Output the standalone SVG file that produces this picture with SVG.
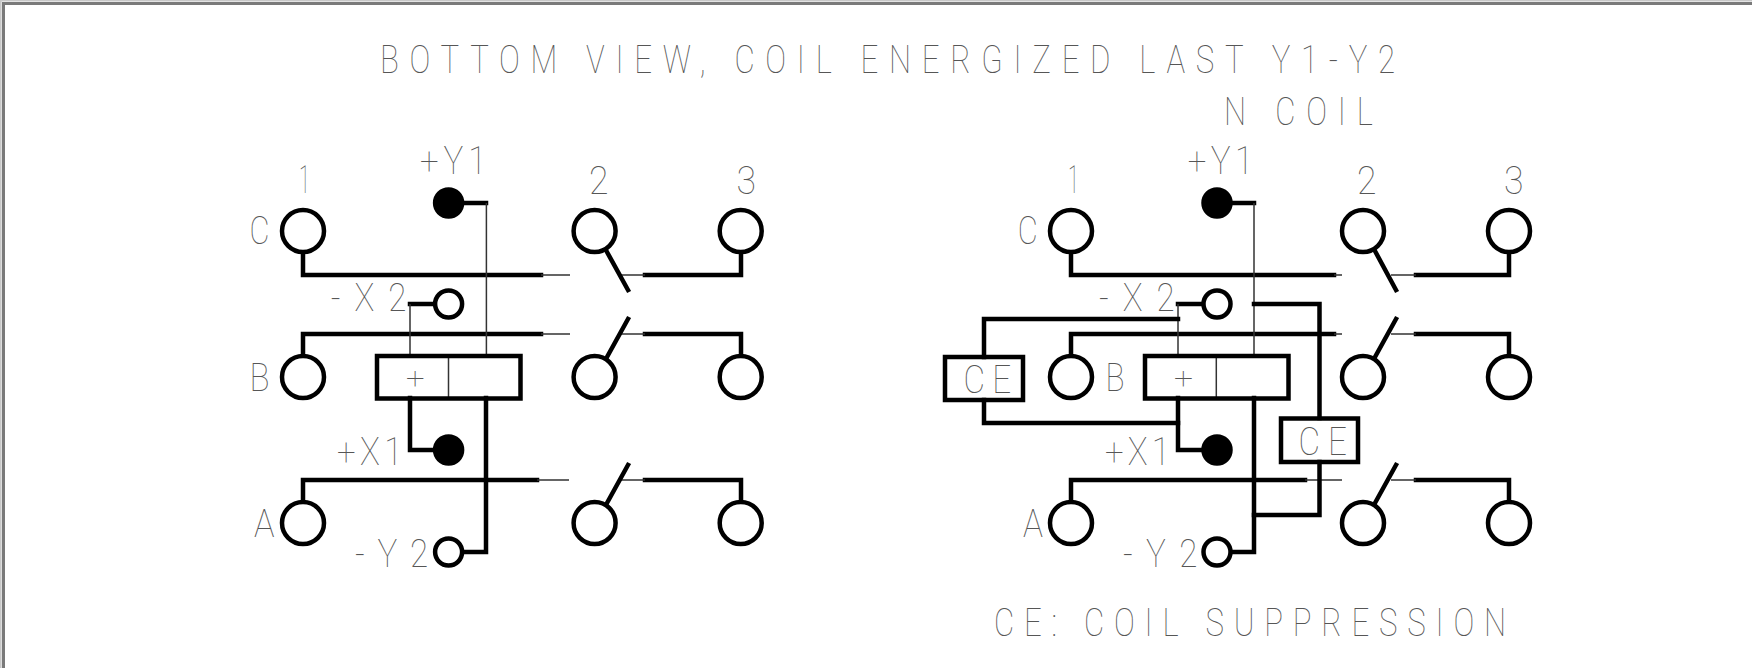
<svg xmlns="http://www.w3.org/2000/svg" width="1752" height="668" viewBox="0 0 1752 668">
<style>
.t{font-family:"Roboto","Liberation Sans",sans-serif;font-weight:100;font-size:39px;fill:#555;opacity:.99}
.k{fill:none;stroke:#000;stroke-width:4.5;stroke-linecap:square;stroke-linejoin:miter}
.n{fill:none;stroke:#333;stroke-width:1.5}
.o{fill:#fff;stroke:#000;stroke-width:4.5}
.b{fill:#000;stroke:#000;stroke-width:4.5}
.r{fill:none;stroke:#000;stroke-width:4.5}
</style>
<rect width="1752" height="668" fill="#fff"/>
<g id="frame"><path d="M3.5 668V3.5H1752" fill="none" stroke="#7a7a7a" stroke-width="3"/><path d="M.8 668V.8H1752" fill="none" stroke="#c8c8c8" stroke-width="1.6"/></g>
<g id="titles">
<text class="t" transform="translate(380 72.7) scale(.8 1)" textLength="1269" lengthAdjust="spacing">BOTTOM VIEW, COIL ENERGIZED LAST Y1-Y2</text>
<text class="t" transform="translate(1224 125) scale(.8 1)" textLength="186" lengthAdjust="spacing">N COIL</text>
<text class="t" transform="translate(994 635.7) scale(.8 1)" textLength="640" lengthAdjust="spacing">CE: COIL SUPPRESSION</text>
</g>
<g id="connectors">
<g id="wires-left">
<path class="k" d="M303 254V275H541M303 356V334H541M303 501V480H537"/>
<path class="k" d="M741 254V275H645M741 356V334H645M741 501V480H645"/>
<path class="n" d="M541 275H570M541 334H570M537 480H569M621 275H645M621 334H645M621 480H645"/>
<path class="k" d="M607 252L628 290M607 357L628 319M607 503L628 465"/>
<path class="k" d="M465 203H486M410 304H433M410 398V450H433M486 398V552H465"/>
<path class="n" d="M486.400 203V356M410 304V356"/>
<path class="n" d="M448.500 356V398"/>
</g>
<g id="wires-right">
<path class="k" d="M1071 254V275H1334M1071 356V334H1334M1071 501V480H1305"/>
<path class="k" d="M1509 254V275H1416M1509 356V334H1416M1509 501V480H1416"/>
<path class="n" d="M1334 275H1342M1334 334H1342M1305 480H1342M1391 275H1416M1391 334H1416M1391 480H1416"/>
<path class="k" d="M1375 251L1396 290M1375 357L1396 319M1375 503L1396 465"/>
<path class="k" d="M1234 203H1254M1178 304H1200M1178 398V450H1200M1254 398V552H1234"/>
<path class="n" d="M1254 203V356M1178 304V356"/>
<path class="n" d="M1216.300 356V398"/>
<path class="k" d="M984 357V319H1178M984 400V423H1178"/>
<path class="k" d="M1254 304H1319.500V418M1319.500 462V515H1254"/>
</g>
</g>
<g id="relay-left">
<rect class="r" x="377" y="356" width="143.500" height="42.500"/>
<text class="t" x="406" y="388" textLength="18.600" lengthAdjust="spacingAndGlyphs" style="font-size:30px">+</text>
</g>
<g id="relay-right">
<rect class="r" x="1145" y="356" width="143.500" height="42.500"/>
<text class="t" x="1174" y="388" textLength="19" lengthAdjust="spacingAndGlyphs" style="font-size:30px">+</text>
</g>
<g id="ce-left"><rect class="r" x="945" y="357" width="78" height="43"/><text class="t" transform="translate(963.6 392.7) scale(.85 1)" textLength="56" lengthAdjust="spacing">CE</text></g>
<g id="ce-right"><rect class="r" x="1281" y="418.500" width="77" height="43.500"/><text class="t" transform="translate(1298.5 455) scale(.85 1)" textLength="57" lengthAdjust="spacing">CE</text></g>
<g id="left-terminals">
<g id="l-c"><circle class="o" cx="303" cy="231" r="21"/><text class="t" x="249.600" y="244" textLength="20" lengthAdjust="spacingAndGlyphs">C</text><text class="t" x="299" y="193.300" textLength="11" lengthAdjust="spacingAndGlyphs">1</text></g>
<g id="l-b"><circle class="o" cx="303" cy="377" r="21"/><text class="t" x="249.600" y="390.700" textLength="20" lengthAdjust="spacingAndGlyphs">B</text></g>
<g id="l-a"><circle class="o" cx="303" cy="523" r="21"/><text class="t" x="254" y="537.300" textLength="20.500" lengthAdjust="spacingAndGlyphs">A</text></g>
<g id="l-2"><circle class="o" cx="594.600" cy="231" r="21"/><text class="t" x="589" y="194" textLength="19.500" lengthAdjust="spacingAndGlyphs">2</text></g>
<g id="l-3"><circle class="o" cx="740.700" cy="231" r="21"/><text class="t" x="736.400" y="194" textLength="19.500" lengthAdjust="spacingAndGlyphs">3</text></g>
<g id="l-m2"><circle class="o" cx="594.600" cy="377" r="21"/></g>
<g id="l-m3"><circle class="o" cx="740.700" cy="377" r="21"/></g>
<g id="l-b2"><circle class="o" cx="594.600" cy="523" r="21"/></g>
<g id="l-b3"><circle class="o" cx="740.700" cy="523" r="21"/></g>
<g id="l-y1"><circle class="b" cx="448.600" cy="203" r="13.500"/><text class="t" transform="translate(420 174.3) scale(.85 1)" textLength="78" lengthAdjust="spacing">+Y1</text></g>
<g id="l-x2"><circle class="o" cx="448.600" cy="304" r="13.500"/><text class="t" transform="translate(330.7 311) scale(.85 1)" textLength="89" lengthAdjust="spacing">-X2</text></g>
<g id="l-x1"><circle class="b" cx="448.600" cy="450" r="13.500"/><text class="t" transform="translate(337 465) scale(.85 1)" textLength="77" lengthAdjust="spacing">+X1</text></g>
<g id="l-y2"><circle class="o" cx="448.600" cy="552" r="13.500"/><text class="t" transform="translate(355 566.7) scale(.85 1)" textLength="86" lengthAdjust="spacing">-Y2</text></g>
</g>
<g id="right-terminals">
<g id="r-c"><circle class="o" cx="1071" cy="231" r="21"/><text class="t" x="1017.800" y="244" textLength="20" lengthAdjust="spacingAndGlyphs">C</text><text class="t" x="1068" y="193.300" textLength="11" lengthAdjust="spacingAndGlyphs">1</text></g>
<g id="r-b"><circle class="o" cx="1071" cy="377" r="21"/><text class="t" x="1105.500" y="390.700" textLength="19" lengthAdjust="spacingAndGlyphs">B</text></g>
<g id="r-a"><circle class="o" cx="1071" cy="523" r="21"/><text class="t" x="1023" y="537.300" textLength="20" lengthAdjust="spacingAndGlyphs">A</text></g>
<g id="r-2"><circle class="o" cx="1363" cy="231" r="21"/><text class="t" x="1357" y="194" textLength="19.500" lengthAdjust="spacingAndGlyphs">2</text></g>
<g id="r-3"><circle class="o" cx="1509" cy="231" r="21"/><text class="t" x="1504" y="194" textLength="19.500" lengthAdjust="spacingAndGlyphs">3</text></g>
<g id="r-m2"><circle class="o" cx="1363" cy="377" r="21"/></g>
<g id="r-m3"><circle class="o" cx="1509" cy="377" r="21"/></g>
<g id="r-b2"><circle class="o" cx="1363" cy="523" r="21"/></g>
<g id="r-b3"><circle class="o" cx="1509" cy="523" r="21"/></g>
<g id="r-y1"><circle class="b" cx="1217" cy="203" r="13.500"/><text class="t" transform="translate(1187.8 174.3) scale(.85 1)" textLength="77" lengthAdjust="spacing">+Y1</text></g>
<g id="r-x2"><circle class="o" cx="1217" cy="304" r="13.500"/><text class="t" transform="translate(1099 311) scale(.85 1)" textLength="89" lengthAdjust="spacing">-X2</text></g>
<g id="r-x1"><circle class="b" cx="1217" cy="450" r="13.500"/><text class="t" transform="translate(1105 465) scale(.85 1)" textLength="76.500" lengthAdjust="spacing">+X1</text></g>
<g id="r-y2"><circle class="o" cx="1217" cy="552" r="13.500"/><text class="t" transform="translate(1123 566.7) scale(.85 1)" textLength="87.500" lengthAdjust="spacing">-Y2</text></g>
</g>
</svg>
